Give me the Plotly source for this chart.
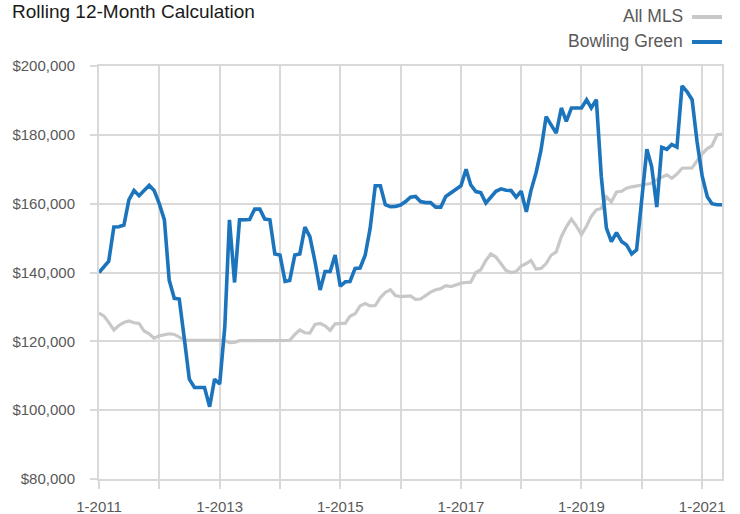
import pandas as pd
import plotly.graph_objects as go

# Rolling 12-month values, monthly from January 2011 (in thousands of dollars)
start_month = "2011-01-01"

all_mls = [
    128.2, 127.3, 125.5, 123.3, 124.6, 125.5, 125.9, 125.4, 125.2, 123.0, 122.2, 120.9,
    121.6, 122.0, 122.2, 122.0, 121.2, 120.4, 120.3, 120.3, 120.3, 120.3, 120.3, 120.3,
    120.3, 120.3, 119.6, 119.7, 120.2, 120.2, 120.2, 120.2, 120.2, 120.2, 120.2, 120.2,
    120.2, 120.2, 120.3, 122.0, 123.3, 122.5, 122.4, 124.9, 125.2, 124.5, 123.2, 125.1,
    125.3, 125.3, 127.3, 128.0, 130.3, 131.0, 130.3, 130.4, 132.7, 134.2, 135.0, 133.3,
    133.0, 133.2, 133.2, 132.2, 132.3, 133.3, 134.3, 135.0, 135.3, 136.2, 135.9, 136.4,
    136.9, 137.1, 137.2, 140.0, 140.8, 143.5, 145.4, 144.5, 142.5, 140.6, 140.0, 140.3,
    141.9, 142.6, 143.5, 141.0, 141.2, 142.6, 145.0, 146.0, 150.4, 153.3, 155.5, 153.5,
    151.0, 153.5, 156.3, 158.2, 158.6, 162.0, 160.5, 163.4, 163.6, 164.5, 164.9, 165.2,
    165.4, 165.6, 165.9, 167.0, 167.8, 168.4, 167.4, 168.6, 170.3, 170.3, 170.4, 172.5,
    174.5, 176.0, 176.8, 180.0, 180.2,
]

bowling_green = [
    140.0, 141.6, 143.3, 153.2, 153.3, 153.8, 161.1, 163.8, 162.3, 163.8, 165.3, 163.8,
    160.0, 155.3, 137.8, 132.5, 132.3, 120.7, 109.0, 106.6, 106.6, 106.6, 101.0, 109.0,
    107.6, 124.3, 155.3, 137.1, 155.3, 155.3, 155.4, 158.4, 158.4, 155.5, 155.3, 145.4,
    145.1, 137.4, 137.7, 145.1, 145.4, 153.2, 150.4, 143.2, 134.9, 140.3, 140.3, 145.1,
    136.0, 137.3, 137.4, 141.2, 141.3, 145.0, 152.8, 165.2, 165.2, 159.7, 159.1, 159.2,
    159.6, 160.6, 161.9, 162.1, 160.6, 160.3, 160.3, 159.0, 159.0, 162.1, 163.2, 164.0,
    165.2, 170.0, 165.5, 163.5, 163.2, 160.2, 162.0, 163.6, 164.3, 163.9, 163.8, 161.9,
    163.6, 157.6, 163.8, 169.0, 175.6, 185.3, 182.9, 180.5, 187.8, 183.9, 187.8, 187.8,
    187.8, 190.2, 187.8, 190.2, 167.9, 152.9, 149.0, 151.6, 149.0, 148.0, 145.4, 146.6,
    160.5, 175.8, 170.8, 159.0, 176.4, 175.8, 177.2, 176.4, 194.2, 192.6, 190.2, 178.0,
    168.0, 162.0, 160.0, 159.7, 159.7,
]

tick_dates = ["2011-01-01", "2013-01-01", "2015-01-01", "2017-01-01", "2019-01-01", "2021-01-01"]
tick_labels = ["1-2011", "1-2013", "1-2015", "1-2017", "1-2019", "1-2021"]
y_ticks = [80000, 100000, 120000, 140000, 160000, 180000, 200000]

series_names = ["All MLS", "Bowling Green"]
series_colors = ["#c8c8c8", "#1c75bc"]

months = pd.date_range(start_month, periods=len(bowling_green), freq="MS")

W, H = 740, 514
L, R, T, B = 99, 18, 66, 35
FONT = "Liberation Sans, Arial, Helvetica, sans-serif"
GRID = "#d9d9d9"
TEXT = "#595959"

fig = go.Figure()
fig.add_trace(go.Scatter(
    x=months, y=[v * 1000 for v in all_mls], mode="lines", name=series_names[0],
    line=dict(color=series_colors[0], width=3.2), showlegend=False,
))
fig.add_trace(go.Scatter(
    x=months, y=[v * 1000 for v in bowling_green], mode="lines", name=series_names[1],
    line=dict(color=series_colors[1], width=3.6), showlegend=False,
))

fig.update_xaxes(
    type="date",
    range=["2011-01-01", "2021-05-01"],
    tickvals=tick_dates, ticktext=tick_labels,
    showgrid=True, gridcolor=GRID, gridwidth=2,
    ticks="outside", ticklen=8, tickwidth=2, tickcolor=GRID,
    minor=dict(dtick="M12", tick0="2011-01-01", showgrid=True, gridcolor=GRID,
               gridwidth=2, ticks="outside", ticklen=8, tickwidth=2, tickcolor=GRID),
    showline=True, linecolor=GRID, linewidth=2, mirror=True,
    zeroline=False, automargin=False,
    tickfont=dict(family=FONT, size=15, color=TEXT),
    ticklabelstandoff=5,
)
fig.update_yaxes(
    range=[80000, 200000],
    tickvals=y_ticks, tickformat="$,.0f",
    showgrid=True, gridcolor=GRID, gridwidth=2,
    ticks="outside", ticklen=7, tickwidth=2, tickcolor=GRID,
    showline=True, linecolor=GRID, linewidth=2, mirror=True,
    zeroline=False, automargin=False,
    tickfont=dict(family=FONT, size=15, color=TEXT),
    ticklabelstandoff=12,
)


def px_to_paper(px, py):
    pw = W - L - R
    ph = H - T - B
    return (px - L) / pw, (H - B - py) / ph


# Legend: label text followed by a short line sample, stacked at top right
legend_rows = [(series_names[0], series_colors[0], 17), (series_names[1], series_colors[1], 42)]
for name, color, py in legend_rows:
    tx, ty = px_to_paper(685, py - 1)
    fig.add_annotation(
        x=tx, y=ty, xref="paper", yref="paper", text=name, showarrow=False,
        xanchor="right", yanchor="middle",
        font=dict(family=FONT, size=17.5, color=TEXT),
    )
    x0, y0 = px_to_paper(692, py)
    x1, _ = px_to_paper(722, py)
    fig.add_shape(type="line", xref="paper", yref="paper", x0=x0, x1=x1, y0=y0, y1=y0,
                  line=dict(color=color, width=4))

fig.update_layout(
    width=W, height=H,
    margin=dict(l=L, r=R, t=T, b=B, autoexpand=False),
    paper_bgcolor="white", plot_bgcolor="white",
    title=dict(
        text="Rolling 12-Month Calculation",
        x=12 / W, xanchor="left", xref="container",
        y=1 - 11 / H, yanchor="middle", yref="container",
        font=dict(family=FONT, size=19, color="#1a1a1a"),
        automargin=False,
    ),
    showlegend=False,
)

fig.write_html("out.html")
